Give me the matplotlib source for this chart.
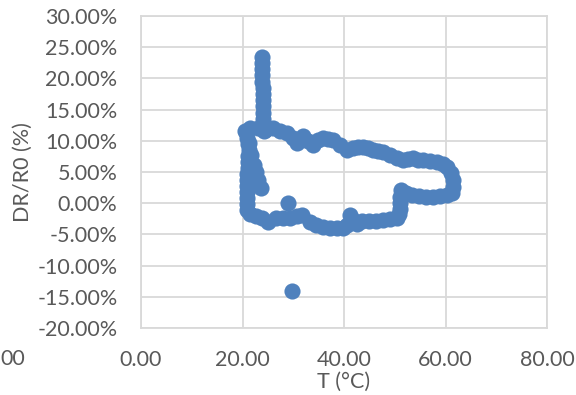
import numpy as np
import matplotlib.pyplot as plt
from matplotlib.ticker import FuncFormatter

plt.rcParams["font.family"] = ["Lato", "DejaVu Sans"]

blue = "#4f81bd"
grey_txt = "#595959"
grey_grid = "#d9d9d9"
fs = 15.5

# temperature (°C) and resistance change DR/R0 (%) logged along the cycle
temp = [
    # ramp-up spike
    23.8, 23.8, 23.9, 23.9, 23.9, 24.0, 24.0, 24.0, 24.1, 24.1, 24.1, 24.2, 24.2,
    # heating branch
    20.5, 21.5, 23.1, 24.4, 26.0, 27.4, 28.8, 30.0, 30.7, 31.9, 32.9, 33.9,
    34.9, 35.9, 36.8, 37.8, 39.2, 40.5, 41.8, 42.8, 43.7, 44.7, 45.7, 46.7,
    47.7, 49.1, 50.4, 51.6, 52.6, 53.6, 54.6, 55.6, 56.9, 58.3, 59.5, 60.3,
    61.1, 61.5, 61.5, 61.3,
    # dwell at high temperature
    60.3, 58.9, 57.5, 56.2, 54.8, 53.4, 52.2, 51.2, 51.0, 51.0, 51.0, 50.8, 50.4,
    # cooling branch
    49.1, 47.7, 46.3, 44.9, 43.5, 42.6, 41.8, 41.2, 40.6, 39.8, 38.6, 37.2,
    35.9, 34.5, 33.3, 31.7, 30.7, 29.4, 28.0, 26.6, 25.0, 23.8, 22.7, 21.5, 20.9,
    # back to room temperature
    20.9, 20.9, 20.9, 20.9, 20.9, 20.9, 21.1, 21.1, 21.1, 21.3, 21.1, 20.9, 20.7,
    21.3, 21.7, 22.3, 22.7, 23.1, 23.6,
    # outliers
    29.0, 29.7,
]
dr = [
    23.5, 22.5, 21.5, 20.5, 19.5, 18.5, 17.5, 16.5, 15.5, 14.5, 13.5, 12.5, 11.5,
    11.5, 12.1, 12.1, 11.7, 12.0, 11.5, 11.25, 10.4, 9.6, 10.7, 10.0, 9.3,
    10.1, 10.4, 10.3, 10.1, 9.3, 8.5, 8.8, 9.0, 9.05, 8.8, 8.5, 8.4,
    8.25, 7.7, 7.2, 6.9, 7.1, 7.2, 7.0, 6.9, 6.8, 6.6, 6.3, 5.8,
    4.8, 3.7, 2.6, 1.6,
    1.3, 1.15, 1.0, 1.0, 1.1, 1.3, 1.6, 2.1, 1.0, 0.0, -0.9, -1.7, -2.4,
    -2.5, -2.7, -2.85, -2.85, -2.85, -3.3, -2.7, -1.9, -3.5, -4.0, -4.0, -4.0,
    -3.8, -3.5, -3.0, -1.9, -2.05, -2.4, -2.4, -2.4, -3.0, -2.4, -2.05, -1.7, -1.1,
    -0.1, 0.8, 1.8, 2.8, 3.7, 4.7, 5.6, 6.6, 7.6, 8.5, 9.5, 10.4, 11.4,
    9.6, 7.7, 6.1, 5.0, 3.7, 2.4,
    0.0, -14.0,
]

x_ticks = [0, 20, 40, 60, 80]
y_ticks = [-20, -15, -10, -5, 0, 5, 10, 15, 20, 25, 30]

fig = plt.figure(figsize=(5.76, 3.95), dpi=100)
ax = fig.add_axes([141 / 576, 67 / 395, 406 / 576, 312 / 395])

ax.scatter(temp, dr, s=135, color=blue, linewidths=0, zorder=3)

ax.set_xlim(0, 80)
ax.set_ylim(-20, 30)
ax.set_xticks(x_ticks)
ax.set_yticks(y_ticks)
ax.xaxis.set_major_formatter(FuncFormatter(lambda v, p: f"{v:.2f}"))
ax.yaxis.set_major_formatter(FuncFormatter(lambda v, p: f"{v:.2f}%"))
ax.tick_params(length=0, labelsize=fs, colors=grey_txt)
ax.tick_params(axis="x", pad=16)
ax.tick_params(axis="y", pad=17)

ax.grid(True, color=grey_grid, linewidth=1.3, zorder=0)
ax.set_axisbelow(True)
for side in ["left", "bottom", "top", "right"]:
    ax.spines[side].set_color(grey_grid)
    ax.spines[side].set_linewidth(1.3)
    ax.spines[side].set_zorder(0)

ax.set_xlabel("T (°C)", fontsize=fs, color=grey_txt, labelpad=1)
ax.set_ylabel("DR/R0 (%)", fontsize=fs, color=grey_txt, labelpad=3)

# leftover label clipped at the figure edge
fig.text(25 / 576, 1 - 359 / 395, "00", ha="right", va="center",
         fontsize=fs, color=grey_txt)

fig.savefig("out.png", dpi=100)
